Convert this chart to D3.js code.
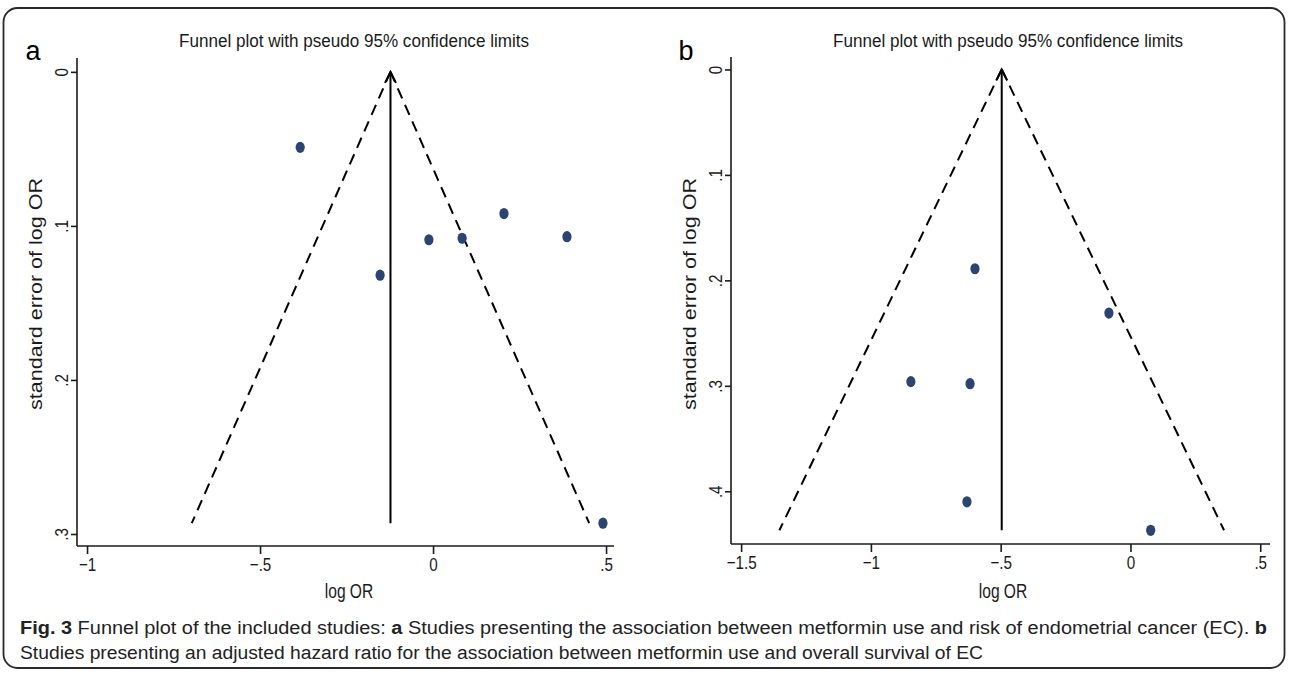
<!DOCTYPE html>
<html>
<head>
<meta charset="utf-8">
<script src="https://cdn.jsdelivr.net/npm/d3@7"></script>
<style>
  html, body { margin: 0; padding: 0; background: #fff; }
  svg { display: block; }
  text { white-space: pre; }
</style>
</head>
<body>
<svg id="fig"></svg>
<script>
/* global d3 */
'use strict';

// panel a: metformin use and risk of EC
const logOrA = [-0.384, -0.153, -0.012, 0.084, 0.205, 0.387, 0.491];
const seA = [0.049, 0.132, 0.109, 0.108, 0.092, 0.107, 0.293];
const pooledA = -0.123;
const xTicksA = [-1, -0.5, 0, 0.5];
const xLabelsA = ['\u22121', '\u2212.5', '0', '.5'];
const yTicksA = [0, 0.1, 0.2, 0.3];
const yLabelsA = ['0', '.1', '.2', '.3'];

// panel b: adjusted HR for overall survival
const logOrB = [-0.599, -0.083, -0.846, -0.618, -0.630, 0.078];
const seB = [0.189, 0.231, 0.296, 0.298, 0.410, 0.437];
const pooledB = -0.496;
const xTicksB = [-1.5, -1, -0.5, 0, 0.5];
const xLabelsB = ['\u22121.5', '\u22121', '\u2212.5', '0', '.5'];
const yTicksB = [0, 0.1, 0.2, 0.3, 0.4];
const yLabelsB = ['0', '.1', '.2', '.3', '.4'];

const titleText = 'Funnel plot with pseudo 95% confidence limits';
const xTitle = 'log OR';
const yTitle = 'standard error of log OR';

const W = 1290;
const H = 674;
const font = "'Liberation Sans', Arial, sans-serif";
const narrow = 'scale(0.8,1)';   // Stata's Helvetica comes out condensed
const ink = '#1a1a1a';
const dotColor = '#2b4470';

const svg = d3.select('#fig')
    .attr('width', W)
    .attr('height', H)
    .attr('viewBox', `0 0 ${W} ${H}`);

svg.append('rect')
    .attr('width', W)
    .attr('height', H)
    .attr('fill', '#fff');

// rounded frame around the figure
svg.append('rect')
    .attr('x', 3.5)
    .attr('y', 8)
    .attr('width', 1281)
    .attr('height', 660)
    .attr('rx', 14)
    .attr('fill', 'none')
    .attr('stroke', '#2a2a2a')
    .attr('stroke-width', 1.8);


function drawFunnel(opts) {
    const g = svg.append('g');
    const box = opts.box;

    const x = d3.scaleLinear()
        .domain(opts.xDomain)
        .range([box.left, box.right]);
    const y = d3.scaleLinear()
        .domain(opts.yDomain)
        .range([box.top, box.bottom]);

    const seMax = d3.max(opts.se);
    const z = 1.96;

    // x axis
    const xAxis = d3.axisBottom(x)
        .tickValues(opts.xTicks)
        .tickSize(8)
        .tickPadding(4)
        .tickFormat(function(d, i) { return opts.xLabels[i]; });
    const gx = g.append('g')
        .attr('transform', 'translate(0,' + box.bottom + ')')
        .call(xAxis);
    gx.select('.domain')
        .attr('d', 'M' + box.left + ',0H' + box.right);
    gx.selectAll('.tick text')
        .attr('transform', narrow);

    // y axis, labels turned on their side as in Stata
    const yAxis = d3.axisLeft(y)
        .tickValues(opts.yTicks)
        .tickSize(6)
        .tickFormat(function(d, i) { return opts.yLabels[i]; });
    const gy = g.append('g')
        .attr('transform', 'translate(' + box.left + ',0)')
        .call(yAxis);
    gy.select('.domain')
        .attr('d', 'M0,' + box.top + 'V' + box.bottom);
    gy.selectAll('.tick text')
        .attr('x', 0)
        .attr('dy', 0)
        .attr('text-anchor', 'middle')
        .attr('dominant-baseline', 'central')
        .attr('transform', 'translate(' + (opts.yLabelX - box.left) + ',0) rotate(-90) ' + narrow);

    g.selectAll('.domain, .tick line')
        .attr('stroke', ink)
        .attr('stroke-width', 1.6);
    g.selectAll('.tick text')
        .attr('fill', ink)
        .attr('font-family', font)
        .attr('font-size', 19);

    // pseudo 95% limits, from the apex down to the largest se
    const limits = [
        [[opts.pooled, 0], [opts.pooled - z * seMax, seMax]],
        [[opts.pooled, 0], [opts.pooled + z * seMax, seMax]]
    ];

    const line = d3.line()
        .x(function(d) { return x(d[0]); })
        .y(function(d) { return y(d[1]); });

    g.selectAll('path.limit')
        .data(limits)
        .join('path')
        .attr('class', 'limit')
        .attr('d', line)
        .attr('fill', 'none')
        .attr('stroke', '#000')
        .attr('stroke-width', 2)
        .attr('stroke-dasharray', '11,7');

    // pooled estimate with open arrow head at se = 0
    g.append('path')
        .attr('d', line([[opts.pooled, seMax], [opts.pooled, 0]]))
        .attr('stroke', '#000')
        .attr('stroke-width', 2);
    const tipX = x(opts.pooled);
    const tipY = y(0);
    g.append('path')
        .attr('d', 'M' + (tipX - 5.5) + ',' + (tipY + 11) + 'L' + tipX + ',' + tipY +
            'L' + (tipX + 5.5) + ',' + (tipY + 11))
        .attr('fill', 'none')
        .attr('stroke', '#000')
        .attr('stroke-width', 2);

    // studies
    g.selectAll('ellipse.study')
        .data(d3.zip(opts.logOr, opts.se))
        .join('ellipse')
        .attr('class', 'study')
        .attr('cx', function(d) { return x(d[0]); })
        .attr('cy', function(d) { return y(d[1]); })
        .attr('rx', 4.6)
        .attr('ry', 5.6)
        .attr('fill', dotColor);

    // titles
    g.append('text')
        .attr('x', opts.titleX)
        .attr('y', 47)
        .attr('text-anchor', 'middle')
        .attr('font-family', font)
        .attr('font-size', 18)
        .attr('fill', ink)
        .attr('textLength', 350)
        .attr('lengthAdjust', 'spacingAndGlyphs')
        .text(titleText);

    g.append('text')
        .attr('transform', 'translate(' + opts.xTitleX + ',598) ' + narrow)
        .attr('text-anchor', 'middle')
        .attr('font-family', font)
        .attr('font-size', 19.5)
        .attr('fill', ink)
        .text(xTitle);

    g.append('text')
        .attr('transform', 'translate(' + opts.yTitleX + ',294) rotate(-90)')
        .attr('text-anchor', 'middle')
        .attr('dominant-baseline', 'central')
        .attr('font-family', font)
        .attr('font-size', 18)
        .attr('fill', ink)
        .attr('textLength', 232)
        .attr('lengthAdjust', 'spacingAndGlyphs')
        .text(yTitle);

    g.append('text')
        .attr('x', opts.letterX)
        .attr('y', 60)
        .attr('text-anchor', 'middle')
        .attr('font-family', font)
        .attr('font-size', 27)
        .attr('fill', '#000')
        .text(opts.letter);
}

drawFunnel({
    box: {left: 77, right: 614, top: 58, bottom: 546},
    xDomain: [-1.029, 0.523],
    yDomain: [-0.009, 0.3078],
    logOr: logOrA, se: seA, pooled: pooledA,
    xTicks: xTicksA, xLabels: xLabelsA,
    yTicks: yTicksA, yLabels: yLabelsA,
    yLabelX: 61, yTitleX: 36, titleX: 354, xTitleX: 349, letterX: 33,
    letter: 'a'
});

drawFunnel({
    box: {left: 731, right: 1270, top: 57, bottom: 544},
    xDomain: [-1.539, 0.5376],
    yDomain: [-0.0118, 0.450],
    logOr: logOrB, se: seB, pooled: pooledB,
    xTicks: xTicksB, xLabels: xLabelsB,
    yTicks: yTicksB, yLabels: yLabelsB,
    yLabelX: 715, yTitleX: 690, titleX: 1008, xTitleX: 1003, letterX: 686,
    letter: 'b'
});

//
// Caption
//

const captionLines = [
    [['Fig. 3', true], [' Funnel plot of the included studies: ', false], ['a', true],
     [' Studies presenting the association between metformin use and risk of endometrial cancer (EC). ', false],
     ['b', true]],
    [['Studies presenting an adjusted hazard ratio for the association between metformin use and overall survival of EC', false]]
];
const captionWidths = [1247, 963];
const captionY = [634, 659];

captionLines.forEach(function(parts, i) {
    const t = svg.append('text')
        .attr('x', 20)
        .attr('y', captionY[i])
        .attr('font-family', font)
        .attr('font-size', 18)
        .attr('fill', '#222')
        .attr('textLength', captionWidths[i])
        .attr('lengthAdjust', 'spacingAndGlyphs');
    parts.forEach(function(p) {
        t.append('tspan')
            .attr('font-weight', p[1] ? 'bold' : 'normal')
            .text(p[0]);
    });
});
</script>
</body>
</html>
